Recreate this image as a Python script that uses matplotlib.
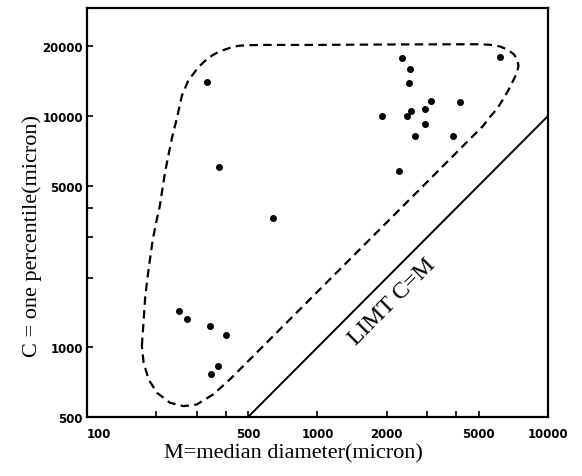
import numpy as np
import matplotlib
matplotlib.use('Agg')
import matplotlib.pyplot as plt
from matplotlib.ticker import FixedLocator, NullFormatter

# puntos medidos: M = diametro mediano, C = un percentil (micron)
M_vals = [250, 272, 342, 401, 371, 344,
          331, 375, 639,
          2326, 6190, 2520, 2503, 3098, 4152, 2544, 2927, 1899, 2438,
          2927, 2649, 3881, 2257]
C_vals = [1430, 1330, 1233, 1135, 827, 764,
          14080, 6000, 3630,
          17880, 18000, 15930, 13940, 11576, 11464, 10540, 10690, 10030, 10000,
          9261, 8192, 8192, 5762]

# contorno de la envolvente (linea discontinua)
env_M = [173, 175, 179, 185, 193, 201, 207, 218, 233, 245, 258, 275, 304, 325,
         348, 372, 404, 430, 461, 510, 580, 928, 2280, 4920, 5602, 6190, 6706,
         7120, 7376, 7447, 7336, 7085, 6741, 6401, 6007, 5546, 5240,
         493, 417, 353, 299, 262, 229, 201, 185, 176, 173]
env_C = [1013, 1196, 1668, 2176, 2935, 3583, 4090, 5706, 7951, 9705, 12240,
         14220, 16250, 17300, 18240, 18930, 19500, 19900, 20150, 20240, 20290,
         20290, 20390, 20430, 20330, 19990, 19310, 18460, 17470, 16460, 15350,
         14310, 12960, 11850, 10720, 9802, 9080,
         859, 727, 626, 566, 557, 576, 637, 727, 859, 1013]

# limite C = M
limit_M = [500, 10000]
limit_C = [500, 10000]

x_ticks = [100, 500, 1000, 2000, 5000, 10000]
x_minor = [200, 300, 400, 3000, 4000]
y_ticks = [500, 1000, 5000, 10000, 20000]
y_minor = [2000, 3000, 4000]

fig = plt.figure(figsize=(5.82, 4.77), dpi=100)
ax = fig.add_axes([0.1495, 0.1237, 0.792, 0.8574])

ax.set_xscale('log')
ax.set_yscale('log')
ax.set_xlim(100, 10000)
ax.set_ylim(500, 29300)

ax.plot(env_M, env_C, color='black', lw=1.6, linestyle=(0, (3.8, 2.4)))
ax.plot(limit_M, limit_C, color='black', lw=1.4)
ax.plot(M_vals, C_vals, 'o', color='black', markersize=4)

ax.text(2111, 1586, 'LIMT C=M', rotation=45, rotation_mode='anchor',
        ha='center', va='center', fontsize=17, family='Liberation Serif')

# ejes y marcas
ax.xaxis.set_major_locator(FixedLocator(x_ticks))
ax.xaxis.set_minor_locator(FixedLocator(x_minor))
ax.yaxis.set_major_locator(FixedLocator(y_ticks))
ax.yaxis.set_minor_locator(FixedLocator(y_minor))
ax.set_xticklabels([str(v) for v in x_ticks])
ax.set_yticklabels([str(v) for v in y_ticks])
ax.xaxis.set_minor_formatter(NullFormatter())
ax.yaxis.set_minor_formatter(NullFormatter())

ax.tick_params(which='both', direction='in', length=4.5, width=1.2,
               top=False, right=False)
ax.tick_params(axis='x', which='both', pad=7)
ax.tick_params(axis='y', which='both', pad=3)
for lab in ax.get_xticklabels() + ax.get_yticklabels():
    lab.set_fontsize(8.5)
    lab.set_fontweight('bold')
    lab.set_family('DejaVu Sans')
ax.get_xticklabels()[0].set_ha('left')

for sp in ax.spines.values():
    sp.set_linewidth(1.6)

ax.set_xlabel('M=median diameter(micron)', fontsize=16, family='Liberation Serif')
ax.set_ylabel('C = one percentile(micron)', fontsize=16, family='Liberation Serif')
ax.xaxis.set_label_coords(0.447, -0.065)
ax.yaxis.set_label_coords(-0.098, 0.445)

fig.savefig('out.png', dpi=100)
